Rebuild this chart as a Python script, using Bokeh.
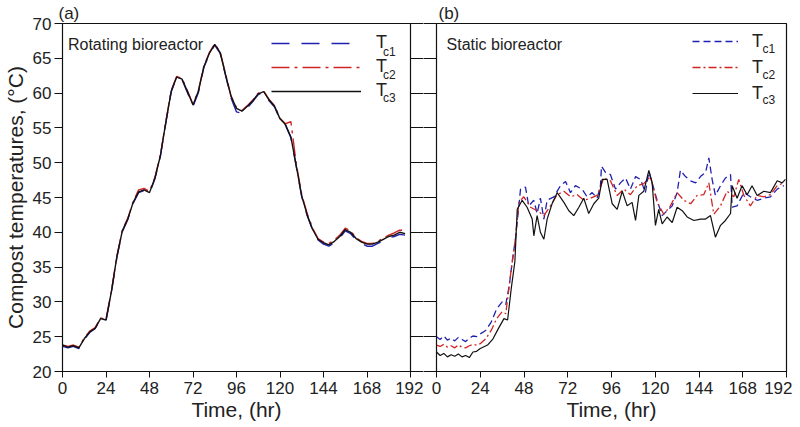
from bokeh.plotting import figure
from bokeh.models import (Range1d, FixedTicker, LinearAxis, Legend, LegendItem, Label)
from bokeh.layouts import row
from bokeh.embed import file_html
from bokeh.resources import INLINE

# ---------------- data ----------------
x_ticks = [0, 24, 48, 72, 96, 120, 144, 168, 192]
y_ticks = [20, 25, 30, 35, 40, 45, 50, 55, 60, 65, 70]

# Rotating bioreactor (panel a)
t_rot = [0, 3, 6, 9, 12, 15, 18, 21, 24, 27, 30, 33, 36, 39, 42, 45, 48, 51, 54, 57,
         60, 63, 66, 69, 72, 75, 78, 81, 84, 87, 90, 93, 96, 99, 102, 105, 108, 111, 114, 117,
         120, 123, 126, 129, 132, 135, 138, 141, 144, 147, 150, 153, 156, 159, 162, 165, 168, 171, 174, 177,
         180, 183, 186, 189]
rot_tc1 = [23.6, 23.4, 23.6, 23.3, 24.6, 25.6, 26.2, 27.5, 27.3, 31.4, 36.4, 40.1, 41.8, 44.2, 45.7, 46.0, 45.6, 47.7, 50.9, 55.7,
           60.2, 62.3, 61.9, 60.0, 58.1, 60.1, 63.7, 65.6, 66.9, 65.7, 62.5, 59.3, 57.3, 57.1, 57.9, 58.8, 59.8, 60.1, 58.9, 58.0,
           56.2, 55.4, 53.6, 49.4, 45.1, 42.4, 40.3, 38.9, 38.3, 38.0, 38.5, 39.2, 40.2, 39.8, 38.9, 38.4, 38.0, 38.0, 38.4, 38.8,
           39.2, 39.4, 39.7, 39.6]
rot_tc2 = [23.8, 23.6, 23.8, 23.5, 24.8, 25.8, 26.3, 27.7, 27.5, 31.6, 36.6, 40.3, 42.0, 44.4, 46.1, 46.3, 45.9, 47.9, 51.1, 55.9,
           60.4, 62.4, 62.1, 60.3, 58.4, 60.4, 63.9, 65.8, 67.1, 65.9, 62.7, 59.6, 57.9, 57.5, 58.2, 59.0, 60.0, 60.3, 59.1, 58.2,
           56.4, 55.6, 55.9, 49.8, 45.4, 42.7, 40.6, 39.1, 38.6, 38.4, 38.9, 39.6, 40.6, 40.2, 39.2, 38.7, 38.4, 38.4, 38.7, 39.2,
           39.6, 39.9, 40.3, 40.3]
rot_tc3 = [23.8, 23.5, 23.7, 23.4, 24.7, 25.7, 26.2, 27.6, 27.4, 31.5, 36.5, 40.2, 41.9, 44.3, 45.8, 46.1, 45.7, 47.8, 51.0, 55.8,
           60.3, 62.3, 62.0, 60.2, 58.3, 60.3, 63.8, 65.7, 67.0, 65.8, 62.6, 59.5, 57.8, 57.4, 58.1, 58.9, 59.9, 60.2, 59.0, 58.1,
           56.3, 55.5, 53.7, 49.5, 45.2, 42.5, 40.4, 39.0, 38.5, 38.2, 38.7, 39.4, 40.4, 40.0, 39.1, 38.6, 38.3, 38.3, 38.6, 39.0,
           39.4, 39.6, 40.0, 39.8]

# Static bioreactor (panel b)
t_st1 = [0, 2, 4, 6, 8, 10, 12, 14, 16, 18, 20, 22, 24, 27, 30, 33, 36, 38, 40, 41.5,
         43.3, 45, 46.1, 48.8, 50.6, 53.4, 55.2, 57, 58.9, 60.7, 64.4, 68, 70.8, 73.5, 76.2, 79.9, 82.6, 85.4, 88.1, 89.9,
         90.5, 92.7, 95.4, 98.2, 100.9, 103.7, 106.4, 109.2, 111.9, 114.6, 116.5, 118.3, 121, 123.8, 126.5, 129.3, 132, 133.8, 136.6, 139.4,
         142.1, 144.8, 147.6, 149.4, 151.2, 153, 155.8, 158.5, 161.3, 162.2, 164.9, 168.6, 172.2, 175.9, 179.6, 183.2, 186.9, 190.5]
st_tc1 = [25.0, 24.6, 25.1, 24.5, 24.8, 24.4, 24.9, 24.6, 24.3, 24.8, 25.1, 25.0, 25.4, 25.9, 27.1, 29.0, 30.0, 29.6, 32.5, 35.7,
          39.0, 43.3, 46.2, 46.5, 43.8, 44.6, 42.7, 44.9, 41.9, 44.6, 45.1, 46.7, 47.3, 45.7, 46.7, 46.2, 45.1, 45.7, 44.9, 46.5,
          49.5, 48.6, 48.3, 46.2, 47.1, 47.8, 46.2, 48.0, 47.6, 45.7, 48.7, 47.1, 44.6, 42.4, 43.1, 43.8, 45.7, 48.9, 48.0, 47.4,
          47.1, 48.0, 48.6, 50.7, 47.6, 45.3, 46.7, 47.8, 48.3, 43.6, 43.8, 45.7, 45.1, 44.6, 44.9, 45.1, 46.2, 46.7]

t_st2 = [0, 2, 4, 6, 8, 10, 12, 14, 16, 18, 20, 22, 24, 27, 30, 33, 36, 38, 39, 41,
         43, 45.2, 47.9, 51.6, 55.2, 58.9, 62.5, 66.2, 69.9, 73.5, 77.2, 80.8, 84.5, 88.1, 91.8, 95.4, 99.1, 102.8, 106.4, 110.1,
         113.7, 117.4, 121, 124.7, 128.3, 132, 135.7, 139.4, 143, 146.6, 149.4, 152.1, 155.8, 159.4, 163.1, 165.8, 168.6, 172.2, 175.9, 179.6,
         183.2, 186.9, 190.5]
st_tc2 = [23.8, 23.6, 23.9, 23.5, 23.7, 23.4, 23.8, 23.5, 23.4, 23.7, 23.9, 23.8, 24.0, 24.7, 25.9, 27.6, 28.6, 28.3, 30.4, 34.7,
          38.5, 44.3, 45.1, 43.6, 43.1, 42.4, 43.8, 45.4, 45.9, 45.1, 45.4, 44.6, 44.9, 45.3, 47.8, 47.4, 45.3, 46.2, 45.4, 46.7,
          47.0, 48.0, 44.3, 42.6, 43.8, 45.7, 44.6, 44.1, 45.3, 45.4, 47.1, 42.6, 43.8, 45.9, 45.1, 47.6, 45.3, 43.8, 45.3, 45.1,
          45.4, 46.7, 47.1]

t_st3 = [0, 2, 4, 6, 8, 10, 12, 14, 16, 18, 20, 22, 24, 28, 31, 34, 37, 39, 41, 43,
         44.3, 47, 49.7, 52.5, 53.4, 55.2, 57, 58.9, 60.7, 63.4, 66.2, 69.9, 72.6, 75.3, 78.1, 80.8, 83.5, 86.3, 89, 90.9,
         93.6, 96.4, 99.1, 101.9, 104.6, 107.3, 109.2, 111, 113.7, 116.5, 118.3, 120.1, 121.9, 123.8, 126.5, 129.3, 132, 134.8, 137.5, 141.2,
         144.8, 147.6, 150.3, 153, 155.8, 158.5, 161.3, 162.2, 164.9, 167.6, 170.4, 173.1, 175.9, 179.6, 183.2, 186.9, 189.6, 191.4]
st_tc3 = [22.8, 22.3, 22.6, 22.1, 22.4, 22.2, 22.5, 22.1, 22.3, 22.0, 22.8, 22.9, 23.3, 23.8, 24.7, 26.2, 27.6, 27.4, 31.9, 35.8,
          43.3, 44.6, 43.6, 41.9, 39.5, 42.4, 40.0, 39.0, 41.9, 44.1, 45.7, 44.3, 43.1, 42.4, 43.6, 44.9, 42.7, 44.1, 44.9, 47.6,
          47.6, 44.1, 43.3, 45.9, 43.8, 44.3, 41.7, 45.3, 45.9, 48.9, 47.1, 41.0, 43.3, 41.2, 42.2, 41.4, 43.6, 43.1, 42.2, 41.7,
          41.9, 41.9, 42.4, 39.3, 41.0, 41.7, 42.7, 46.7, 44.9, 46.7, 45.4, 46.7, 45.3, 45.9, 45.7, 47.4, 47.1, 47.6]

series_labels = ["c1", "c2", "c3"]
panel_titles = ["(a)", "(b)"]

# ---------------- styling ----------------
FONT = "Liberation Sans"
TXT = "#222222"
BLUE = "#2020b0"
RED = "#d02424"
BLACK = "#111111"
H = 425


def base_fig(width, mbl, mbr, title, title_offset):
    p = figure(width=width, height=H, x_range=Range1d(0, 192), y_range=Range1d(20, 70),
               toolbar_location=None, output_backend="svg",
               min_border_left=mbl, min_border_right=mbr, min_border_top=23, min_border_bottom=54)
    p.title.text = title
    p.title.text_font = FONT
    p.title.text_font_style = "normal"
    p.title.text_font_size = "17px"
    p.title.text_color = TXT
    p.title.standoff = 2
    p.title.offset = title_offset
    p.grid.visible = False
    p.outline_line_color = "#111111"
    p.outline_line_width = 1.2
    p.background_fill_color = "white"
    p.border_fill_color = "white"
    xa = p.xaxis[0]
    xa.ticker = FixedTicker(ticks=x_ticks)
    xa.axis_label = "Time, (hr)"
    xa.axis_label_text_font = FONT
    xa.axis_label_text_font_style = "normal"
    xa.axis_label_text_font_size = "21px"
    xa.axis_label_text_color = TXT
    xa.axis_label_standoff = 1
    xa.major_label_text_font = FONT
    xa.major_label_text_font_size = "17px"
    xa.major_label_text_color = TXT
    xa.major_label_standoff = 4
    xa.major_tick_out = 6
    xa.major_tick_in = 0
    xa.minor_tick_line_color = None
    xa.axis_line_color = "#111111"
    xa.major_tick_line_color = "#111111"
    return p


def set_left_axis(p, show_labels, tick_out):
    ya = p.yaxis[0]
    ya.ticker = FixedTicker(ticks=y_ticks)
    ya.minor_tick_line_color = None
    ya.major_tick_in = 0
    ya.major_tick_out = tick_out
    ya.axis_line_color = "#111111"
    ya.major_tick_line_color = "#111111"
    if show_labels:
        ya.axis_label = "Compost temperatures, (\u00b0C)"
        ya.axis_label_text_font = FONT
        ya.axis_label_text_font_style = "normal"
        ya.axis_label_text_font_size = "21px"
        ya.axis_label_text_color = TXT
        ya.axis_label_standoff = 3
        ya.major_label_text_font = FONT
        ya.major_label_text_font_size = "17px"
        ya.major_label_text_color = TXT
        ya.major_label_standoff = 3
    else:
        ya.major_label_text_font_size = "1px"
        ya.major_label_text_color = None
        ya.major_label_standoff = 0


def add_text(p, x, y, text, size="16px"):
    p.add_layout(Label(x=x, y=y, text=text, text_font=FONT, text_font_size=size,
                       text_color=TXT, text_baseline="alphabetic"))


# ---------------- panel (a) ----------------
pa = base_fig(423, 61, 13, panel_titles[0], -4)
set_left_axis(pa, True, 8)
ra = LinearAxis(ticker=FixedTicker(ticks=y_ticks), major_label_text_font_size="1px",
                major_label_text_color=None,
                major_label_standoff=0, major_tick_out=13, major_tick_in=0,
                minor_tick_line_color=None, axis_line_color=None, major_tick_line_color="#111111")
pa.add_layout(ra, "right")

a1 = pa.line(t_rot, rot_tc1, line_color=BLUE, line_width=1.4, line_dash="18 12")
a2 = pa.line(t_rot, rot_tc2, line_color=RED, line_width=1.4, line_dash="18 5 3 5")
a3 = pa.line(t_rot, rot_tc3, line_color=BLACK, line_width=1.4)

leg_a = Legend(items=[LegendItem(label="T", renderers=[r]) for r in (a1, a2, a3)],
               location=(209, 270), padding=0, margin=0, spacing=3,
               label_height=20, glyph_height=20, glyph_width=90, label_standoff=15,
               label_text_font=FONT, label_text_font_size="18px", label_text_color=TXT,
               border_line_color=None, background_fill_alpha=0)
pa.add_layout(leg_a)
for lab, yv in zip(series_labels, [65.9, 62.6, 59.3]):
    add_text(pa, 176.8, yv, lab, "12px")
add_text(pa, 3.0, 67.0, "Rotating bioreactor")

# ---------------- panel (b) ----------------
pb = base_fig(369, 13, 6, panel_titles[1], 2)
set_left_axis(pb, False, 13)

b1 = pb.line(t_st1, st_tc1, line_color=BLUE, line_width=1.3, line_dash="7 4")
b2 = pb.line(t_st2, st_tc2, line_color=RED, line_width=1.3, line_dash="8 3 2 3")
b3 = pb.line(t_st3, st_tc3, line_color=BLACK, line_width=1.2)

leg_b = Legend(items=[LegendItem(label="T", renderers=[r]) for r in (b1, b2, b3)],
               location=(256, 267), padding=0, margin=0, spacing=4,
               label_height=22, glyph_height=22, glyph_width=46, label_standoff=14,
               label_text_font=FONT, label_text_font_size="18px", label_text_color=TXT,
               border_line_color=None, background_fill_alpha=0)
pb.add_layout(leg_b)
for lab, yv in zip(series_labels, [66.3, 62.55, 58.95]):
    add_text(pb, 178.8, yv, lab, "12px")
add_text(pb, 5.5, 67.0, "Static bioreactor")

layout = row(pa, pb)
open("out.html", "w").write(file_html(layout, INLINE))
